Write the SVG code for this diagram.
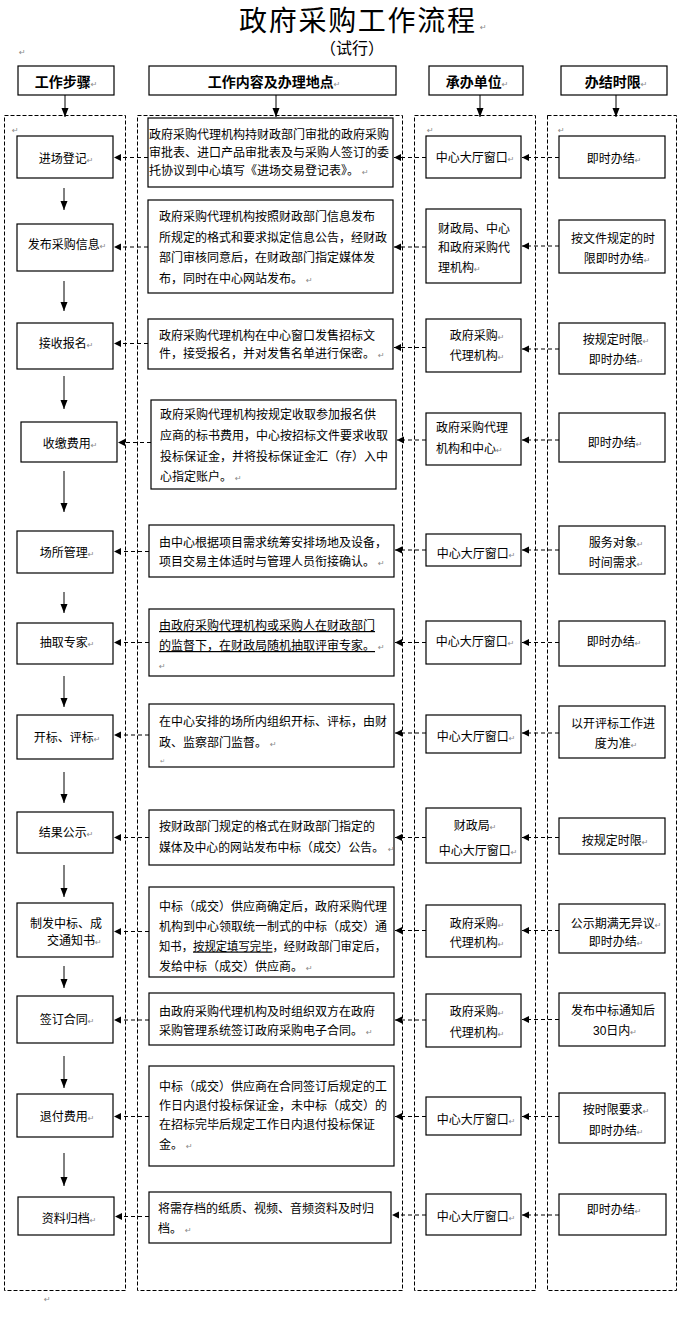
<svg xmlns="http://www.w3.org/2000/svg" width="680" height="1337" viewBox="0 0 680 1337">
<style>
.bx{fill:#fff;stroke:#000;stroke-width:1.2}
.col{fill:none;stroke:#000;stroke-width:1;stroke-dasharray:4 2}
.cn{fill:none;stroke:#000;stroke-width:1;stroke-dasharray:4 3}
.dn{fill:none;stroke:#000;stroke-width:1}
text{font-family:"Liberation Sans","Noto Sans CJK SC",sans-serif;font-size:12px;fill:#000}
.m{text-anchor:middle}
.h{font-size:14px;font-weight:bold}
.pm{font-family:"DejaVu Sans",sans-serif;font-size:8px;fill:#888;font-weight:normal}
.u{text-decoration:underline}
</style>
<defs>
<marker id="al" markerWidth="8" markerHeight="8" refX="7" refY="3.5" orient="auto" markerUnits="userSpaceOnUse"><path d="M0,0 L7,3.5 L0,7 z" fill="#000"/></marker>
<marker id="ad" markerWidth="10" markerHeight="8" refX="9" refY="3.5" orient="auto" markerUnits="userSpaceOnUse"><path d="M0,0 L9,3.5 L0,7 z" fill="#000"/></marker>
</defs>
<rect width="680" height="1337" fill="#fff"/>

<g id="title">
<text x="357" y="31" class="m" style="font-size:28px" textLength="236" lengthAdjust="spacing">政府采购工作流程</text>
<text x="480" y="30" class="pm">↵</text>
<text x="352" y="54" class="m" style="font-size:16px">（试行）</text>
<text x="19" y="55" class="pm">↵</text>
</g>

<g id="columns">
<rect class="col" x="4.5" y="115.5" width="121" height="1175"/>
<rect class="col" x="137.5" y="115.5" width="265" height="1175"/>
<rect class="col" x="414.5" y="115.5" width="121" height="1175"/>
<rect class="col" x="547.5" y="115.5" width="129" height="1175"/>
<text x="44" y="1302" class="pm">↵</text>
</g>

<g id="header-step"><rect class="bx" x="18" y="66" width="96" height="29"/><text x="66" y="87" class="m h">工作步骤<tspan class="pm">↵</tspan></text></g>
<g id="header-content"><rect class="bx" x="149" y="66" width="247" height="29"/><text x="274" y="87" class="m h">工作内容及办理地点<tspan class="pm">↵</tspan></text></g>
<g id="header-unit"><rect class="bx" x="429" y="66" width="94" height="29"/><text x="477" y="87" class="m h">承办单位<tspan class="pm">↵</tspan></text></g>
<g id="header-time"><rect class="bx" x="561" y="66" width="106" height="29"/><text x="616" y="87" class="m h">办结时限<tspan class="pm">↵</tspan></text></g>

<!-- Row 1 -->
<g id="s1"><rect class="bx" x="17" y="136" width="96" height="42"/><text x="66" y="163" class="m">进场登记<tspan class="pm">↵</tspan></text></g>
<g id="c1"><rect class="bx" x="148" y="118" width="245" height="69"/>
<text x="149" y="139">政府采购代理机构持财政部门审批的政府采购</text>
<text x="149" y="157">审批表、进口产品审批表及与采购人签订的委</text>
<text x="149" y="175">托协议到中心填写《进场交易登记表》。<tspan class="pm" dx="3">↵</tspan></text></g>
<g id="u1"><rect class="bx" x="426" y="136" width="95" height="42"/><text x="475" y="162" class="m">中心大厅窗口<tspan class="pm">↵</tspan></text></g>
<g id="t1"><rect class="bx" x="559" y="136" width="106" height="42"/><text x="614" y="163" class="m">即时办结<tspan class="pm">↵</tspan></text></g>
<g id="pm1"><text x="12" y="133" class="pm">↵</text><text x="427" y="133" class="pm">↵</text><text x="558" y="133" class="pm">↵</text></g>

<!-- Row 2 -->
<g id="s2"><rect class="bx" x="17" y="224" width="96" height="47"/><text x="67" y="249" class="m">发布采购信息<tspan class="pm">↵</tspan></text></g>
<g id="c2"><rect class="bx" x="148" y="200" width="245" height="93"/>
<text x="159" y="221">政府采购代理机构按照财政部门信息发布</text>
<text x="159" y="242">所规定的格式和要求拟定信息公告，经财政</text>
<text x="159" y="262">部门审核同意后，在财政部门指定媒体发</text>
<text x="159" y="283">布，同时在中心网站发布。<tspan class="pm" dx="3">↵</tspan></text></g>
<g id="u2"><rect class="bx" x="426" y="209" width="95" height="74"/>
<text x="438" y="233">财政局、中心</text>
<text x="438" y="252">和政府采购代</text>
<text x="438" y="272">理机构<tspan class="pm">↵</tspan></text></g>
<g id="t2"><rect class="bx" x="559" y="220" width="106" height="53"/>
<text x="613" y="243" class="m">按文件规定的时</text>
<text x="617" y="263" class="m">限即时办结<tspan class="pm">↵</tspan></text></g>

<!-- Row 3 -->
<g id="s3"><rect class="bx" x="17" y="323" width="96" height="46"/><text x="66" y="348" class="m">接收报名<tspan class="pm">↵</tspan></text></g>
<g id="c3"><rect class="bx" x="148" y="319" width="245" height="50"/>
<text x="159" y="340">政府采购代理机构在中心窗口发售招标文</text>
<text x="159" y="358">件，接受报名，并对发售名单进行保密。<tspan class="pm" dx="3">↵</tspan></text></g>
<g id="u3"><rect class="bx" x="426" y="319" width="95" height="53"/>
<text x="477" y="340" class="m">政府采购<tspan class="pm">↵</tspan></text>
<text x="477" y="360" class="m">代理机构<tspan class="pm">↵</tspan></text></g>
<g id="t3"><rect class="bx" x="559" y="323" width="106" height="51"/>
<text x="616" y="344" class="m">按规定时限<tspan class="pm">↵</tspan></text>
<text x="616" y="364" class="m">即时办结<tspan class="pm">↵</tspan></text></g>

<!-- Row 4 -->
<g id="s4"><rect class="bx" x="21" y="422" width="96" height="40"/><text x="70" y="448" class="m">收缴费用<tspan class="pm">↵</tspan></text></g>
<g id="c4"><rect class="bx" x="151" y="400" width="245" height="89"/>
<text x="160" y="419">政府采购代理机构按规定收取参加报名供</text>
<text x="160" y="440">应商的标书费用，中心按招标文件要求收取</text>
<text x="160" y="461">投标保证金，并将投标保证金汇（存）入中</text>
<text x="160" y="481">心指定账户。<tspan class="pm" dx="3">↵</tspan></text></g>
<g id="u4"><rect class="bx" x="426" y="413" width="95" height="52"/>
<text x="436" y="432">政府采购代理</text>
<text x="436" y="453">机构和中心<tspan class="pm">↵</tspan></text></g>
<g id="t4"><rect class="bx" x="559" y="413" width="106" height="49"/><text x="615" y="447" class="m">即时办结<tspan class="pm">↵</tspan></text></g>

<!-- Row 5 -->
<g id="s5"><rect class="bx" x="17" y="531" width="96" height="42"/><text x="67" y="557" class="m">场所管理<tspan class="pm">↵</tspan></text></g>
<g id="c5"><rect class="bx" x="149" y="525" width="245" height="52"/>
<text x="159" y="547">由中心根据项目需求统筹安排场地及设备，</text>
<text x="159" y="566">项目交易主体适时与管理人员衔接确认。<tspan class="pm" dx="3">↵</tspan></text></g>
<g id="u5"><rect class="bx" x="426" y="534" width="95" height="32"/><text x="476" y="558" class="m">中心大厅窗口<tspan class="pm">↵</tspan></text></g>
<g id="t5"><rect class="bx" x="559" y="526" width="106" height="48"/>
<text x="616" y="547" class="m">服务对象<tspan class="pm">↵</tspan></text>
<text x="616" y="567" class="m">时间需求<tspan class="pm">↵</tspan></text></g>

<!-- Row 6 -->
<g id="s6"><rect class="bx" x="17" y="623" width="96" height="41"/><text x="67" y="647" class="m">抽取专家<tspan class="pm">↵</tspan></text></g>
<g id="c6"><rect class="bx" x="149" y="609" width="245" height="67"/>
<text x="159" y="630" class="u">由政府采购代理机构或采购人在财政部门</text>
<text x="159" y="650"><tspan class="u">的监督下，在财政局随机抽取评审专家。</tspan><tspan class="pm" dx="3">↵</tspan></text>
<text x="159" y="669" class="pm">↵</text></g>
<g id="u6"><rect class="bx" x="426" y="621" width="95" height="43"/><text x="475" y="646" class="m">中心大厅窗口<tspan class="pm">↵</tspan></text></g>
<g id="t6"><rect class="bx" x="559" y="621" width="106" height="45"/><text x="614" y="646" class="m">即时办结<tspan class="pm">↵</tspan></text></g>

<!-- Row 7 -->
<g id="s7"><rect class="bx" x="17" y="715" width="96" height="44"/><text x="67" y="742" class="m">开标、评标<tspan class="pm">↵</tspan></text></g>
<g id="c7"><rect class="bx" x="149" y="704" width="245" height="63"/>
<text x="159" y="726">在中心安排的场所内组织开标、评标，由财</text>
<text x="159" y="747">政、监察部门监督。<tspan class="pm" dx="3">↵</tspan></text>
<text x="160" y="763" class="pm" style="font-size:6px">↵</text></g>
<g id="u7"><rect class="bx" x="426" y="715" width="95" height="38"/><text x="476" y="741" class="m">中心大厅窗口<tspan class="pm">↵</tspan></text></g>
<g id="t7"><rect class="bx" x="559" y="706" width="106" height="52"/>
<text x="613" y="728" class="m">以开评标工作进</text>
<text x="616" y="748" class="m">度为准<tspan class="pm">↵</tspan></text></g>

<!-- Row 8 -->
<g id="s8"><rect class="bx" x="17" y="812" width="96" height="41"/><text x="66" y="837" class="m">结果公示<tspan class="pm">↵</tspan></text></g>
<g id="c8"><rect class="bx" x="149" y="810" width="245" height="55"/>
<text x="159" y="831">按财政部门规定的格式在财政部门指定的</text>
<text x="159" y="852" textLength="225" lengthAdjust="spacingAndGlyphs">媒体及中心的网站发布中标（成交）公告。</text>
<text x="388" y="852" class="pm">↵</text></g>
<g id="u8"><rect class="bx" x="426" y="808" width="95" height="55"/>
<text x="475" y="830" class="m">财政局<tspan class="pm">↵</tspan></text>
<text x="478" y="855" class="m">中心大厅窗口<tspan class="pm">↵</tspan></text></g>
<g id="t8"><rect class="bx" x="559" y="818" width="106" height="36"/><text x="615" y="845" class="m">按规定时限<tspan class="pm">↵</tspan></text></g>

<!-- Row 9 -->
<g id="s9"><rect class="bx" x="17" y="903" width="96" height="54"/>
<text x="30" y="928">制发中标、成</text>
<text x="47" y="945">交通知书<tspan class="pm">↵</tspan></text></g>
<g id="c9"><rect class="bx" x="149" y="887" width="245" height="90"/>
<text x="159" y="911">中标（成交）供应商确定后，政府采购代理</text>
<text x="159" y="931">机构到中心领取统一制式的中标（成交）通</text>
<text x="159" y="950.5" textLength="227" lengthAdjust="spacingAndGlyphs">知书，<tspan class="u">按规定填写完毕</tspan>，经财政部门审定后，</text>
<text x="159" y="970.5">发给中标（成交）供应商。<tspan class="pm" dx="3">↵</tspan></text></g>
<g id="u9"><rect class="bx" x="426" y="905" width="95" height="52"/>
<text x="477" y="928" class="m">政府采购<tspan class="pm">↵</tspan></text>
<text x="477" y="947" class="m">代理机构<tspan class="pm">↵</tspan></text></g>
<g id="t9"><rect class="bx" x="559" y="904" width="106" height="49"/>
<text x="616" y="928" class="m">公示期满无异议<tspan class="pm">↵</tspan></text>
<text x="616" y="946" class="m">即时办结<tspan class="pm">↵</tspan></text></g>

<!-- Row 10 -->
<g id="s10"><rect class="bx" x="17" y="996" width="96" height="47"/><text x="67" y="1024" class="m">签订合同<tspan class="pm">↵</tspan></text></g>
<g id="c10"><rect class="bx" x="149" y="993" width="245" height="52"/>
<text x="159" y="1016">由政府采购代理机构及时组织双方在政府</text>
<text x="159" y="1035">采购管理系统签订政府采购电子合同。<tspan class="pm" dx="3">↵</tspan></text></g>
<g id="u10"><rect class="bx" x="426" y="994" width="95" height="53"/>
<text x="477" y="1016" class="m">政府采购<tspan class="pm">↵</tspan></text>
<text x="477" y="1037" class="m">代理机构<tspan class="pm">↵</tspan></text></g>
<g id="t10"><rect class="bx" x="559" y="993" width="106" height="53"/>
<text x="613" y="1014.5" class="m">发布中标通知后</text>
<text x="615" y="1035" class="m">30日内<tspan class="pm">↵</tspan></text></g>

<!-- Row 11 -->
<g id="s11"><rect class="bx" x="17" y="1094" width="96" height="43"/><text x="67" y="1121" class="m">退付费用<tspan class="pm">↵</tspan></text></g>
<g id="c11"><rect class="bx" x="149" y="1066" width="245" height="100"/>
<text x="159" y="1090.5">中标（成交）供应商在合同签订后规定的工</text>
<text x="159" y="1109.5">作日内退付投标保证金，未中标（成交）的</text>
<text x="159" y="1129">在招标完毕后规定工作日内退付投标保证</text>
<text x="159" y="1149">金。<tspan class="pm" dx="3">↵</tspan></text></g>
<g id="u11"><rect class="bx" x="426" y="1097" width="95" height="38"/><text x="476" y="1124" class="m">中心大厅窗口<tspan class="pm">↵</tspan></text></g>
<g id="t11"><rect class="bx" x="559" y="1093" width="106" height="50"/>
<text x="616" y="1114" class="m">按时限要求<tspan class="pm">↵</tspan></text>
<text x="616" y="1134.5" class="m">即时办结<tspan class="pm">↵</tspan></text></g>

<!-- Row 12 -->
<g id="s12"><rect class="bx" x="18" y="1197" width="96" height="38"/><text x="69" y="1223" class="m">资料归档<tspan class="pm">↵</tspan></text></g>
<g id="c12"><rect class="bx" x="149" y="1192" width="242" height="51"/>
<text x="158" y="1213">将需存档的纸质、视频、音频资料及时归</text>
<text x="158" y="1233">档。<tspan class="pm" dx="3">↵</tspan></text></g>
<g id="u12"><rect class="bx" x="426" y="1194" width="95" height="41"/><text x="476" y="1220.5" class="m">中心大厅窗口<tspan class="pm">↵</tspan></text></g>
<g id="t12"><rect class="bx" x="559" y="1194" width="107" height="41"/><text x="614" y="1214" class="m">即时办结<tspan class="pm">↵</tspan></text></g>

<g id="connectors">
<line class="dn" x1="65" y1="95" x2="65" y2="117" marker-end="url(#ad)"/>
<line class="dn" x1="276" y1="95" x2="276" y2="117" marker-end="url(#ad)"/>
<line class="dn" x1="480" y1="95" x2="480" y2="117" marker-end="url(#ad)"/>
<line class="dn" x1="616" y1="95" x2="616" y2="117" marker-end="url(#ad)"/>
<line class="dn" x1="64" y1="188" x2="64" y2="210" marker-end="url(#ad)"/>
<line class="dn" x1="64" y1="281" x2="64" y2="311" marker-end="url(#ad)"/>
<line class="dn" x1="64" y1="376" x2="64" y2="409" marker-end="url(#ad)"/>
<line class="dn" x1="64" y1="471" x2="64" y2="512" marker-end="url(#ad)"/>
<line class="dn" x1="64" y1="592" x2="64" y2="613" marker-end="url(#ad)"/>
<line class="dn" x1="64" y1="676" x2="64" y2="707" marker-end="url(#ad)"/>
<line class="dn" x1="64" y1="772" x2="64" y2="803" marker-end="url(#ad)"/>
<line class="dn" x1="64" y1="865" x2="64" y2="897" marker-end="url(#ad)"/>
<line class="dn" x1="64" y1="966" x2="64" y2="988" marker-end="url(#ad)"/>
<line class="dn" x1="64" y1="1056" x2="64" y2="1088" marker-end="url(#ad)"/>
<line class="dn" x1="64" y1="1153" x2="64" y2="1186" marker-end="url(#ad)"/>
<line class="cn" x1="148" y1="157.5" x2="114" y2="157.5" marker-end="url(#al)"/>
<line class="cn" x1="148" y1="247" x2="114" y2="247" marker-end="url(#al)"/>
<line class="cn" x1="148" y1="343.5" x2="114" y2="343.5" marker-end="url(#al)"/>
<line class="cn" x1="151" y1="442.5" x2="118" y2="442.5" marker-end="url(#al)"/>
<line class="cn" x1="149" y1="551.5" x2="114" y2="551.5" marker-end="url(#al)"/>
<line class="cn" x1="149" y1="642.5" x2="114" y2="642.5" marker-end="url(#al)"/>
<line class="cn" x1="149" y1="735" x2="114" y2="735" marker-end="url(#al)"/>
<line class="cn" x1="149" y1="837.5" x2="114" y2="837.5" marker-end="url(#al)"/>
<line class="cn" x1="149" y1="931.5" x2="114" y2="931.5" marker-end="url(#al)"/>
<line class="cn" x1="149" y1="1020" x2="114" y2="1020" marker-end="url(#al)"/>
<line class="cn" x1="149" y1="1116.5" x2="114" y2="1116.5" marker-end="url(#al)"/>
<line class="cn" x1="149" y1="1216.5" x2="115" y2="1216.5" marker-end="url(#al)"/>
<line class="cn" x1="426" y1="157.5" x2="394" y2="157.5" marker-end="url(#al)"/>
<line class="cn" x1="426" y1="247" x2="394" y2="247" marker-end="url(#al)"/>
<line class="cn" x1="426" y1="347.5" x2="394" y2="347.5" marker-end="url(#al)"/>
<line class="cn" x1="426" y1="440" x2="397" y2="440" marker-end="url(#al)"/>
<line class="cn" x1="426" y1="550" x2="395" y2="550" marker-end="url(#al)"/>
<line class="cn" x1="426" y1="642.5" x2="395" y2="642.5" marker-end="url(#al)"/>
<line class="cn" x1="426" y1="733" x2="395" y2="733" marker-end="url(#al)"/>
<line class="cn" x1="426" y1="837.5" x2="395" y2="837.5" marker-end="url(#al)"/>
<line class="cn" x1="426" y1="930.5" x2="395" y2="930.5" marker-end="url(#al)"/>
<line class="cn" x1="426" y1="1020" x2="395" y2="1020" marker-end="url(#al)"/>
<line class="cn" x1="426" y1="1116.5" x2="395" y2="1116.5" marker-end="url(#al)"/>
<line class="cn" x1="426" y1="1215" x2="392" y2="1215" marker-end="url(#al)"/>
<line class="cn" x1="559" y1="157.5" x2="522" y2="157.5" marker-end="url(#al)"/>
<line class="cn" x1="559" y1="246" x2="522" y2="246" marker-end="url(#al)"/>
<line class="cn" x1="559" y1="349" x2="522" y2="349" marker-end="url(#al)"/>
<line class="cn" x1="559" y1="440" x2="522" y2="440" marker-end="url(#al)"/>
<line class="cn" x1="559" y1="550" x2="522" y2="550" marker-end="url(#al)"/>
<line class="cn" x1="559" y1="642.5" x2="522" y2="642.5" marker-end="url(#al)"/>
<line class="cn" x1="559" y1="733" x2="522" y2="733" marker-end="url(#al)"/>
<line class="cn" x1="559" y1="837.5" x2="522" y2="837.5" marker-end="url(#al)"/>
<line class="cn" x1="559" y1="930.5" x2="522" y2="930.5" marker-end="url(#al)"/>
<line class="cn" x1="559" y1="1019.5" x2="522" y2="1019.5" marker-end="url(#al)"/>
<line class="cn" x1="559" y1="1116.5" x2="522" y2="1116.5" marker-end="url(#al)"/>
<line class="cn" x1="559" y1="1215" x2="522" y2="1215" marker-end="url(#al)"/>
</g>
</svg>
